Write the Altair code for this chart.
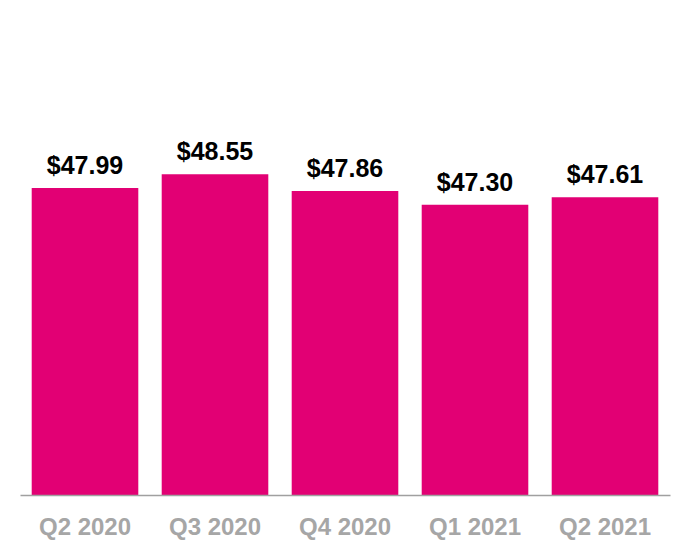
import altair as alt
import pandas as pd

quarters = ["Q2 2020", "Q3 2020", "Q4 2020", "Q1 2021", "Q2 2021"]
values = [47.99, 48.55, 47.86, 47.30, 47.61]
labels = ["$47.99", "$48.55", "$47.86", "$47.30", "$47.61"]

y_min = 35.37
y_max = 54.89

df = pd.DataFrame({"quarter": quarters, "value": values, "label": labels})

x_enc = alt.X(
    "quarter:N",
    sort=quarters,
    title=None,
    scale=alt.Scale(paddingInner=0.18, paddingOuter=0.09),
    axis=alt.Axis(
        labelAngle=0,
        labelFont="Liberation Sans",
        labelFontWeight="bold",
        labelFontSize=24,
        labelColor="#A6A6A6",
        labelPadding=20,
        ticks=False,
        domainColor="#A0A0A0",
        domainWidth=1.5,
        domainOpacity=1,
        grid=False,
        zindex=1,
    ),
)
y_scale = alt.Scale(domain=[y_min, y_max], zero=False, nice=False)

bars = alt.Chart(df).mark_bar(color="#E20074").encode(
    x=x_enc,
    y=alt.Y("value:Q", scale=y_scale, axis=None),
    y2=alt.datum(y_min),
)

text = alt.Chart(df).mark_text(
    font="Liberation Sans",
    fontWeight="bold",
    fontSize=25,
    color="#000000",
    baseline="alphabetic",
    dy=-14,
).encode(
    x=alt.X("quarter:N", sort=quarters),
    y=alt.Y("value:Q", scale=y_scale),
    text="label:N",
)

chart = (
    alt.layer(bars, text)
    .properties(
        width=650,
        height=475,
        autosize=alt.AutoSizeParams(type="none"),
        padding={"left": 12, "top": 12, "right": 12, "bottom": 60},
        background="white",
    )
    .configure_view(stroke=None)
)

chart.save("out.html", embed_options={"renderer": "svg", "actions": False})
